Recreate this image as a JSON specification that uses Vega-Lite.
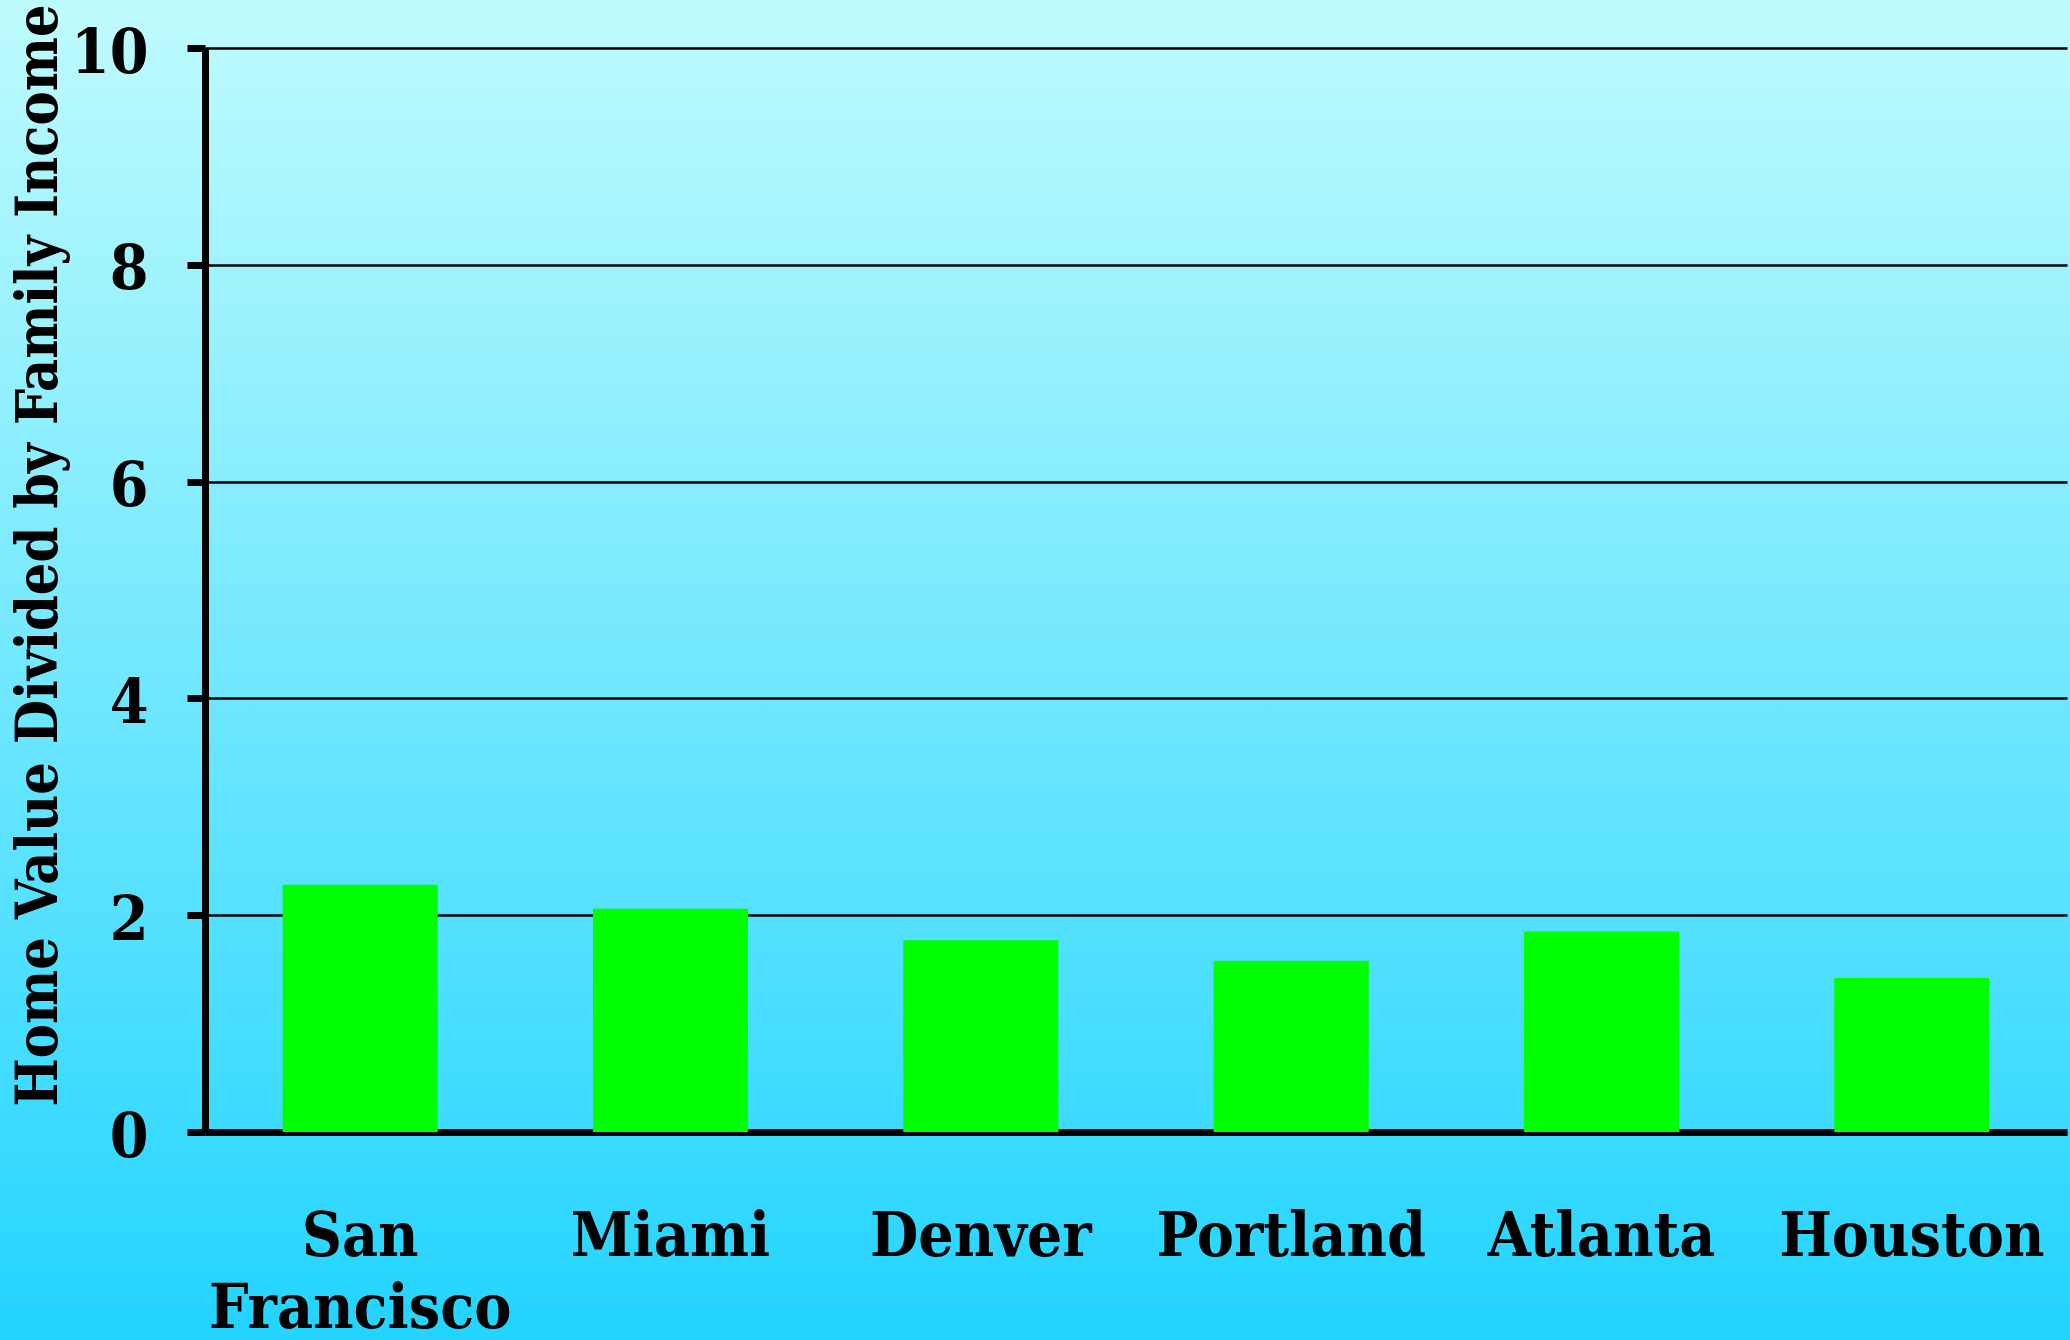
{
  "$schema": "https://vega.github.io/schema/vega-lite/v6.json",
  "width": 2070,
  "height": 1340,
  "autosize": {"type": "none"},
  "padding": 0,
  "background": "#22d4ff",
  "config": {
    "view": {
      "stroke": null,
      "fill": {
        "gradient": "linear",
        "x1": 0, "y1": 0, "x2": 0, "y2": 1,
        "stops": [
          {"offset": 0, "color": "#bffbfd"},
          {"offset": 0.5, "color": "#72e8fe"},
          {"offset": 1, "color": "#22d4ff"}
        ]
      }
    },
    "font": "DejaVu Serif Condensed"
  },
  "data": {
    "values": [
      {"city": "San Francisco", "ratio": 2.28},
      {"city": "Miami", "ratio": 2.06},
      {"city": "Denver", "ratio": 1.77},
      {"city": "Portland", "ratio": 1.58},
      {"city": "Atlanta", "ratio": 1.85},
      {"city": "Houston", "ratio": 1.42}
    ]
  },
  "mark": {"type": "bar", "color": "#00ff00"},
  "encoding": {
    "x": {
      "field": "city",
      "type": "nominal",
      "sort": null,
      "scale": {"range": [205, 2067], "paddingInner": 0.5, "paddingOuter": 0.25},
      "axis": {
        "title": null,
        "orient": "bottom",
        "offset": -208,
        "domainColor": "black",
        "domainWidth": 7,
        "ticks": false,
        "tickSize": 0,
        "labelAngle": 0,
        "labelAlign": "center",
        "labelBaseline": "alphabetic",
        "labelPadding": 123,
        "labelFont": "DejaVu Serif Condensed",
        "labelFontSize": 62,
        "labelFontWeight": "bold",
        "labelColor": "black",
        "labelLineHeight": 72,
        "labelLimit": 500,
        "labelOverlap": false,
        "labelExpr": "split(datum.label, ' ')"
      }
    },
    "y": {
      "field": "ratio",
      "type": "quantitative",
      "scale": {"domain": [0, 10], "range": [1132, 48], "nice": false},
      "axis": {
        "title": "Home Value Divided by Family Income",
        "orient": "left",
        "offset": -205,
        "values": [0, 2, 4, 6, 8, 10],
        "domainColor": "black",
        "domainWidth": 7,
        "tickColor": "black",
        "tickWidth": 7,
        "tickSize": 18,
        "grid": true,
        "gridColor": "black",
        "gridWidth": 2.5,
        "gridOpacity": 1,
        "labelFont": "DejaVu Serif Condensed",
        "labelFontSize": 62,
        "labelFontWeight": "bold",
        "labelColor": "black",
        "labelPadding": 39,
        "labelOffset": 5,
        "titleFont": "DejaVu Serif Condensed",
        "titleFontSize": 57,
        "titleFontWeight": "bold",
        "titleColor": "black",
        "titleAngle": 270,
        "titleAlign": "center",
        "titleBaseline": "alphabetic",
        "titleX": -149,
        "titleY": 555
      }
    }
  }
}
